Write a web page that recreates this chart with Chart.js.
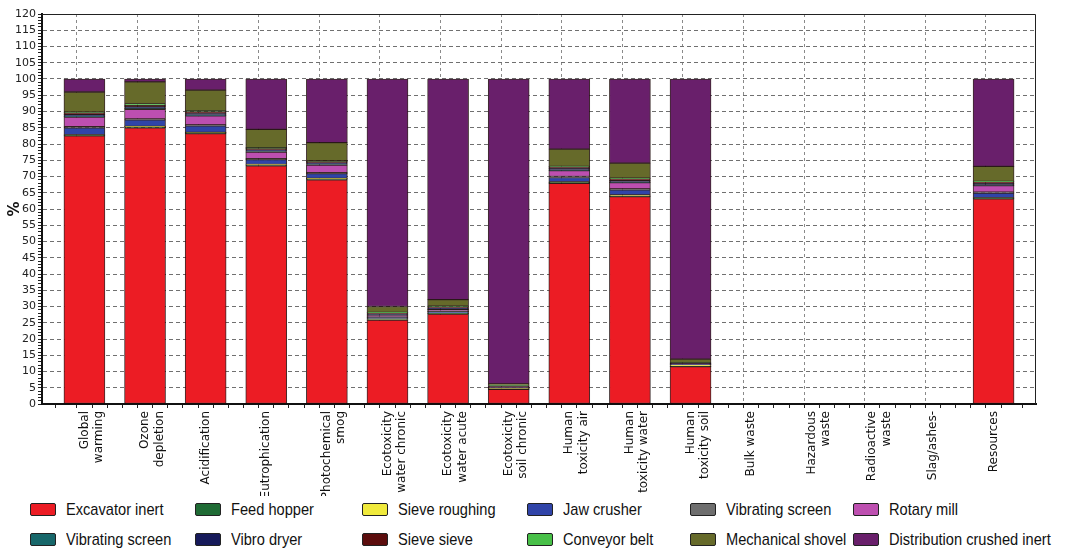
<!DOCTYPE html>
<html>
<head>
<meta charset="utf-8">
<script src="https://cdn.jsdelivr.net/npm/chart.js@4"></script>
<style>
  html, body { margin: 0; padding: 0; background: #fff; }
  #wrap { position: relative; width: 1069px; height: 550px; overflow: hidden; }
  #chartBox { position: absolute; left: 0; top: 0; width: 1069px; height: 496px; }
  #legend {
    position: absolute; left: 30px; top: 497px; width: 1039px;
    display: grid; grid-template-columns: 165px 167px 165px 163px 163px 200px;
    row-gap: 5px;
    font-family: "Liberation Sans", Arial, sans-serif;
    font-size: 17px; color: #111;
  }
  .item { display: flex; align-items: center; height: 25px; white-space: nowrap; }
  .sw { width: 24px; height: 11px; border: 1px solid #222; border-radius: 2px; margin-right: 10px; flex: none; }
  .txt { display: inline-block; transform: scaleX(0.86); transform-origin: left center; }
</style>
</head>
<body>
<div id="wrap">
  <div id="chartBox"><canvas id="lcaChart"></canvas></div>
  <div id="legend"></div>
</div>
<script>
// categories (impact categories on the x axis)
const categories = [
  ["Global", "warming"], ["Ozone", "depletion"], "Acidification", "Eutrophication",
  ["Photochemical", "smog"], ["Ecotoxicity", "water chronic"], ["Ecotoxicity", "water acute"],
  ["Ecotoxicity", "soil chronic"], ["Human", "toxicity air"], ["Human", "toxicity water"],
  ["Human", "toxicity soil"], "Bulk waste", ["Hazardous", "waste"], ["Radioactive", "waste"],
  "Slag/ashes-", "Resources"
];

// contribution of each process, in %
const excavatorInert   = [82.5, 85.0, 83.2, 73.3, 69.0, 25.8, 27.7, 4.5, 67.9, 63.8, 11.5, 0, 0, 0, 0, 63.1];
const feedHopper       = [0.2, 0.3, 0.3, 0.3, 0.3, 0.2, 0.2, 0.1, 0.3, 0.2, 0.1, 0, 0, 0, 0, 0.2];
const sieveRoughing    = [0.1, 0.1, 0.1, 0.1, 0.1, 0.2, 0.1, 0.2, 0.1, 0.3, 0.4, 0, 0, 0, 0, 0.1];
const jawCrusher       = [2.2, 2.0, 2.0, 1.5, 1.5, 0.4, 0.4, 0.1, 1.4, 1.6, 0.1, 0, 0, 0, 0, 1.5];
const vibratingScreen1 = [0.3, 0.3, 0.3, 0.3, 0.3, 0.2, 0.2, 0.05, 0.3, 0.3, 0.05, 0, 0, 0, 0, 0.3];
const rotaryMill       = [3.0, 3.0, 2.8, 2.0, 2.3, 0.5, 0.5, 0.1, 1.8, 1.9, 0.1, 0, 0, 0, 0, 2.0];
const vibratingScreen2 = [0.2, 0.2, 0.2, 0.2, 0.2, 0.1, 0.1, 0.05, 0.2, 0.2, 0.05, 0, 0, 0, 0, 0.2];
const vibroDryer       = [0.6, 0.6, 0.6, 0.5, 0.5, 0.3, 0.3, 0.2, 0.5, 0.5, 0.1, 0, 0, 0, 0, 0.5];
const sieveSieve       = [0.5, 0.4, 0.5, 0.4, 0.4, 0.3, 0.4, 0.3, 0.4, 0.5, 0.2, 0, 0, 0, 0, 0.4];
const conveyorBelt     = [0.2, 0.4, 0.2, 0.3, 0.2, 0.2, 0.2, 0.1, 0.2, 0.2, 0.1, 0, 0, 0, 0, 0.2];
const mechanicalShovel = [6.2, 6.8, 6.4, 5.6, 5.6, 1.8, 2.0, 0.5, 5.3, 4.6, 1.1, 0, 0, 0, 0, 4.6];
const distributionCrushedInert = [4.0, 0.9, 3.4, 15.5, 19.6, 70.0, 67.9, 93.8, 21.6, 25.9, 86.2, 0, 0, 0, 0, 26.9];

const seriesNames = [
  "Excavator inert", "Feed hopper", "Sieve roughing", "Jaw crusher", "Vibrating screen", "Rotary mill",
  "Vibrating screen", "Vibro dryer", "Sieve sieve", "Conveyor belt", "Mechanical shovel", "Distribution crushed inert"
];
const seriesValues = [
  excavatorInert, feedHopper, sieveRoughing, jawCrusher, vibratingScreen1, rotaryMill,
  vibratingScreen2, vibroDryer, sieveSieve, conveyorBelt, mechanicalShovel, distributionCrushedInert
];
const seriesColors = [
  "#ec1c24", "#1f6b35", "#f0ea3c", "#3044a8", "#6e6e6e", "#bd4fb0",
  "#17676a", "#161a5a", "#5c0d0d", "#48c048", "#666a2a", "#691f6b"
];

const yTicks = { min: 0, max: 120, step: 5 };

const datasets = seriesNames.map((name, k) => ({
  label: name,
  data: seriesValues[k].map((v, i) => ({ x: i, y: v })),
  backgroundColor: seriesColors[k],
  borderColor: "rgba(25,5,5,0.85)",
  borderWidth: 1,
  borderSkipped: false,
  barThickness: 41
}));

const isWhole = v => Math.abs(v - Math.round(v)) < 1e-6;
const tickVal = c => (c && c.tick ? c.tick.value : NaN);

// frame on top and right of the plot area
const frame = {
  id: "frame",
  afterDatasetsDraw(chart) {
    const { ctx, chartArea: a } = chart;
    ctx.save();
    ctx.strokeStyle = "#222";
    ctx.lineWidth = 1;
    ctx.beginPath();
    ctx.moveTo(a.left, a.top + 0.5);
    ctx.lineTo(a.right - 0.5, a.top + 0.5);
    ctx.lineTo(a.right - 0.5, a.bottom);
    ctx.stroke();
    ctx.restore();
  }
};

new Chart(document.getElementById("lcaChart"), {
  type: "bar",
  data: { datasets },
  plugins: [frame],
  options: {
    responsive: true,
    maintainAspectRatio: false,
    animation: false,
    layout: { padding: { top: 14, right: 33, left: 0, bottom: 0 } },
    plugins: {
      legend: { display: false },
      tooltip: { enabled: false }
    },
    scales: {
      x: {
        type: "linear",
        stacked: true,
        offset: false,
        min: -0.7,
        max: 15.7,
        afterFit: s => { s.height = 92; },
        grid: {
          color: c => isWhole(tickVal(c)) ? "#8a8a8a" : "transparent",
          tickColor: "#222",
          tickLength: 4
        },
        border: { color: "#111", width: 2, dash: [3, 3] },
        ticks: {
          stepSize: 0.25,
          autoSkip: false,
          minRotation: 90,
          maxRotation: 90,
          padding: 3,
          color: "#111",
          font: { family: "DejaVu Sans", size: 12 },
          callback: v => isWhole(v) ? (categories[Math.round(v)] ?? "") : ""
        }
      },
      y: {
        stacked: true,
        min: yTicks.min,
        max: yTicks.max,
        afterFit: s => { s.width = 42; },
        title: {
          display: true,
          text: "%",
          color: "#111",
          padding: { top: 6, bottom: 0 },
          font: { family: "DejaVu Sans", size: 15, weight: "bold" }
        },
        grid: {
          color: c => {
            const v = tickVal(c);
            return (v % yTicks.step === 0 && v > 0 && v < yTicks.max) ? "#707070" : "transparent";
          },
          tickColor: "#222",
          tickLength: 4
        },
        border: { color: "#111", width: 2, dash: [4, 3] },
        ticks: {
          stepSize: 1,
          autoSkip: false,
          padding: 2,
          color: "#222",
          font: { family: "DejaVu Sans", size: 11 },
          callback: v => v % yTicks.step === 0 ? v : ""
        }
      }
    }
  }
});

// legend in two rows of six, built from the series arrays
const legendEl = document.getElementById("legend");
seriesNames.forEach((name, k) => {
  const item = document.createElement("div");
  item.className = "item";
  const sw = document.createElement("span");
  sw.className = "sw";
  sw.style.background = seriesColors[k];
  const label = document.createElement("span");
  label.className = "txt";
  label.textContent = name;
  item.appendChild(sw);
  item.appendChild(label);
  legendEl.appendChild(item);
});
</script>
</body>
</html>
